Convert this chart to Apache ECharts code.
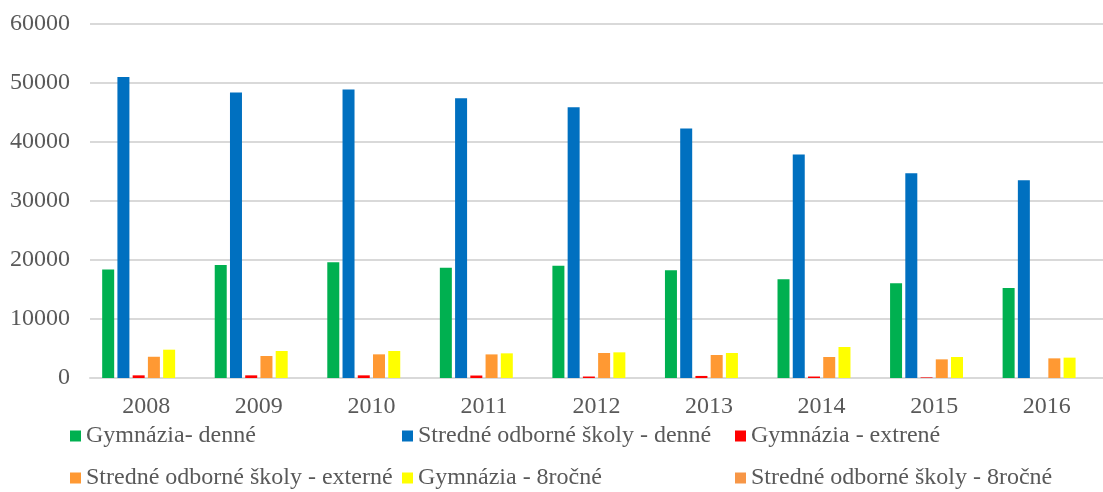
<!DOCTYPE html>
<html>
<head>
<meta charset="utf-8">
<script src="https://cdn.jsdelivr.net/npm/echarts@6/dist/echarts.min.js"></script>
<style>
	html, body { margin: 0; padding: 0; background: #fff; }
	#chart { width: 1103px; height: 492px; }
</style>
</head>
<body>
<div id="chart"></div>
<script>
// 数据
const years = ["2008", "2009", "2010", "2011", "2012", "2013", "2014", "2015", "2016"];
const gymDenne = [18400, 19150, 19600, 18700, 19030, 18250, 16720, 16040, 15250];
const sosDenne = [51000, 48400, 48900, 47400, 45900, 42300, 37900, 34700, 33500];
const gymExterne = [450, 450, 450, 420, 250, 350, 250, 100, 0];
const sosExterne = [3600, 3730, 4010, 4000, 4240, 3900, 3560, 3160, 3330];
const gym8 = [4800, 4580, 4580, 4180, 4350, 4240, 5250, 3560, 3450];
const sos8 = [0, 0, 0, 0, 0, 0, 0, 0, 0];
const yTicks = [0, 10000, 20000, 30000, 40000, 50000, 60000];

const seriesNames = [
	"Gymnázia- denné",
	"Stredné odborné školy - denné",
	"Gymnázia - extrené",
	"Stredné odborné školy - externé",
	"Gymnázia - 8ročné",
	"Stredné odborné školy - 8ročné",
];
const seriesData = [gymDenne, sosDenne, gymExterne, sosExterne, gym8, sos8];
const colors = ["#00B050", "#0070C0", "#FF0000", "#FF9933", "#FFFF00", "#F79646"];

const font = '"Liberation Serif", "Times New Roman", serif';
const textColor = "#595959";

// 图例位置（每项单独放置）
const legendPos = [
	[70, 424], [402, 424], [735, 424],
	[70, 466], [402, 466], [735, 466],
];

const chart = echarts.init(document.getElementById("chart"));

const option = {
	animation: false,
	color: colors,
	grid: { left: 90, right: -10, top: 24, bottom: 114 },
	legend: seriesNames.map((name, i) => ({
		data: [name],
		left: legendPos[i][0],
		top: legendPos[i][1],
		icon: "rect",
		itemWidth: 11,
		itemHeight: 11,
		itemGap: 5,
		padding: 0,
		textStyle: { fontFamily: font, fontSize: 24, color: textColor },
	})),
	xAxis: {
		type: "category",
		data: years,
		axisTick: { show: false },
		axisLine: { lineStyle: { color: "#d9d9d9", width: 2 } },
		axisLabel: { fontFamily: font, fontSize: 24, color: textColor, margin: 17 },
	},
	yAxis: {
		type: "value",
		min: yTicks[0],
		max: yTicks[yTicks.length - 1],
		interval: 10000,
		axisLine: { show: false },
		axisTick: { show: false },
		splitLine: { lineStyle: { color: "#d9d9d9", width: 2 } },
		axisLabel: {
			fontFamily: font,
			fontSize: 24,
			color: textColor,
			margin: 20,
			formatter: (v) => String(v), // 不要千分位
		},
	},
	series: seriesNames.map((name, i) => ({
		name: name,
		type: "bar",
		data: seriesData[i],
		barWidth: 12,
		barGap: "27%",
		itemStyle: { color: colors[i] },
	})),
};

chart.setOption(option);
</script>
</body>
</html>
